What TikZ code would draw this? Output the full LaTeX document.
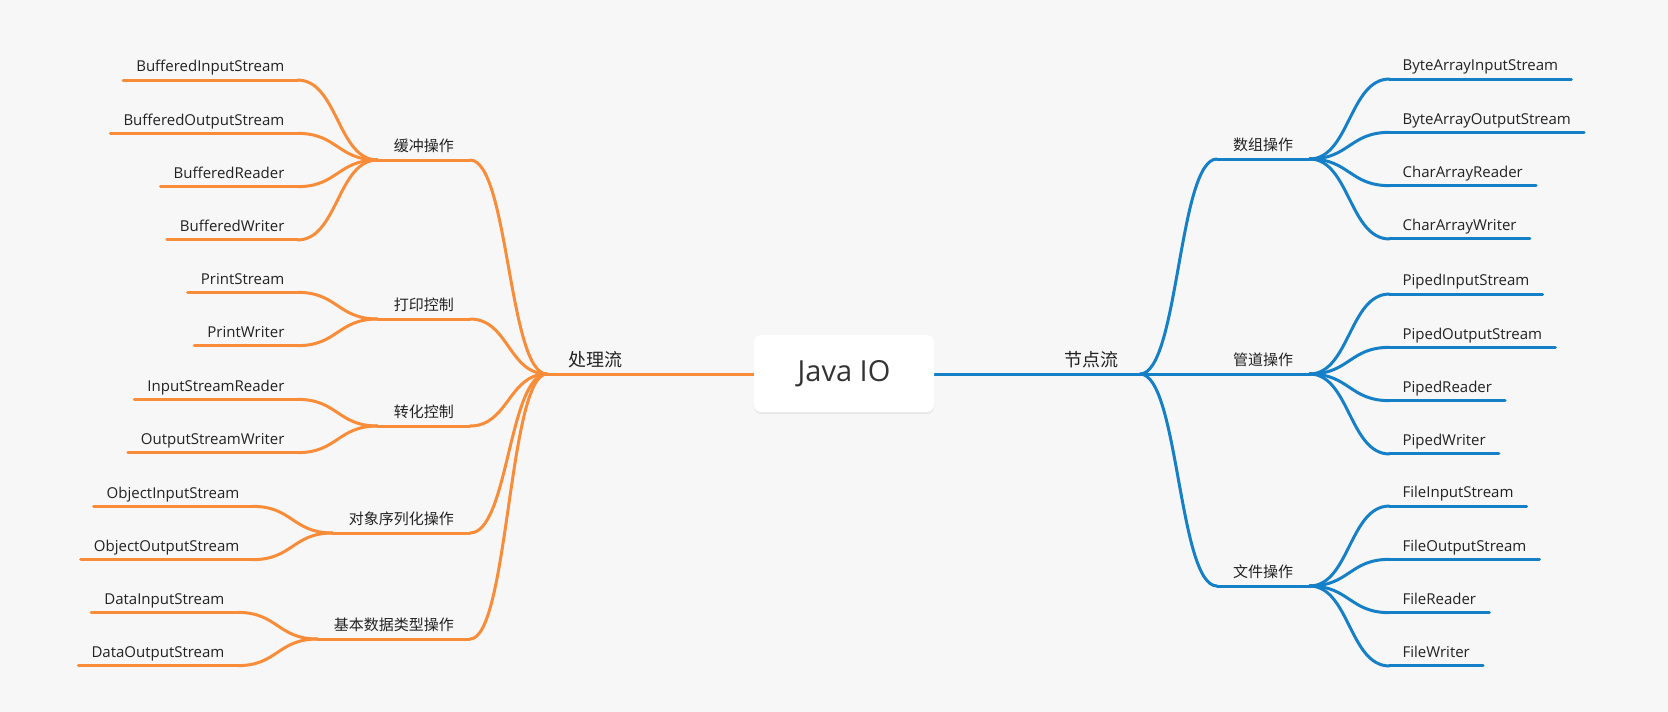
\documentclass[tikz,border=0pt]{standalone}
\usepackage{fontspec}
\setmainfont{Open Sans}
\newfontfamily\cjk{Noto Sans CJK SC}
\usetikzlibrary{calc,shadows}
\definecolor{bgcol}{HTML}{F7F7F7}
\definecolor{leftcol}{HTML}{F98C38}
\definecolor{rightcol}{HTML}{1580C7}
\definecolor{txtcol}{HTML}{222222}
\newcommand{\mylink}[3]{\draw[#1] let \p1=(#2), \p2=(#3) in
  (\p1) .. controls ({(\x1+\x2)/2},\y1) and ({(\x1+\x2)/2},\y2) .. (\p2);}
\tikzset{
  line/.style={line width=3pt,line cap=round},
  leaf/.style={inner xsep=13pt,inner ysep=8pt,text height=11pt,text depth=0pt,
    text=txtcol,font=\fontsize{15}{15}\selectfont},
  group/.style={leaf,inner xsep=16pt,font=\cjk\fontsize{15}{15}\selectfont},
  side/.style={leaf,inner xsep=21pt,inner ysep=7pt,text height=14pt,
    font=\cjk\fontsize{18}{18}\selectfont},
}

\begin{document}
\begin{tikzpicture}[x=1pt,y=-1pt]
  \fill[bgcol] (0,0) rectangle (1668,712);
  \useasboundingbox (0,0) rectangle (1668,712);
  \coordinate (lj) at (547,374);
  \coordinate (rj) at (1140,374);
  \draw[line,leftcol,line cap=butt] (lj) -- (800,374);
  \draw[line,rightcol,line cap=butt] (rj) -- (880,374);
  \node[fill=white,rounded corners=7pt,minimum width=180pt,minimum height=77pt,
    drop shadow={opacity=0.12,shadow xshift=0pt,shadow yshift=-2pt},
    text=black!80,font=\fontsize{29}{29}\selectfont] (root) at (844,373.5) {Java IO};
  \node[side,anchor=south west] (proc) at (lj) {处理流};
  \node[side,anchor=south east] (node) at (rj) {节点流};
  % left side
  \foreach \g/\txt/\gy/\n/\leaves in {
    buf/缓冲操作/160/4/{BufferedInputStream,BufferedOutputStream,BufferedReader,BufferedWriter},
    prt/打印控制/319/2/{PrintStream,PrintWriter},
    cnv/转化控制/426/2/{InputStreamReader,OutputStreamWriter},
    obj/对象序列化操作/533/2/{ObjectInputStream,ObjectOutputStream},
    dat/基本数据类型操作/639/2/{DataInputStream,DataOutputStream}}{
    \node[group,anchor=south east] (\g) at (470,\gy) {\txt};
    \draw[line,leftcol] (\g.south west) -- (\g.south east);
    \mylink{line,leftcol}{lj}{\g.south east}
    \foreach \leaf [count=\i] in \leaves {
      \node[leaf,anchor=south east] (\g\i) at ([shift={(-80,{(\i-(\n+1)/2)*53.3})}]\g.south west) {\leaf};
      \draw[line,leftcol] (\g\i.south west) -- (\g\i.south east);
      \mylink{line,leftcol}{\g.south west}{\g\i.south east}
    }
  }
  % right side
  \foreach \g/\txt/\gy/\n/\leaves in {
    arr/数组操作/159/4/{ByteArrayInputStream,ByteArrayOutputStream,CharArrayReader,CharArrayWriter},
    pip/管道操作/374/4/{PipedInputStream,PipedOutputStream,PipedReader,PipedWriter},
    fil/文件操作/586/4/{FileInputStream,FileOutputStream,FileReader,FileWriter}}{
    \node[group,anchor=south west] (\g) at (1217,\gy) {\txt};
    \draw[line,rightcol] (\g.south west) -- (\g.south east);
    \mylink{line,rightcol}{rj}{\g.south west}
    \foreach \leaf [count=\i] in \leaves {
      \node[leaf,anchor=south west] (\g\i) at ([shift={(80,{(\i-(\n+1)/2)*53.3})}]\g.south east) {\leaf};
      \draw[line,rightcol] (\g\i.south west) -- (\g\i.south east);
      \mylink{line,rightcol}{\g.south east}{\g\i.south west}
    }
  }
\end{tikzpicture}
\end{document}
